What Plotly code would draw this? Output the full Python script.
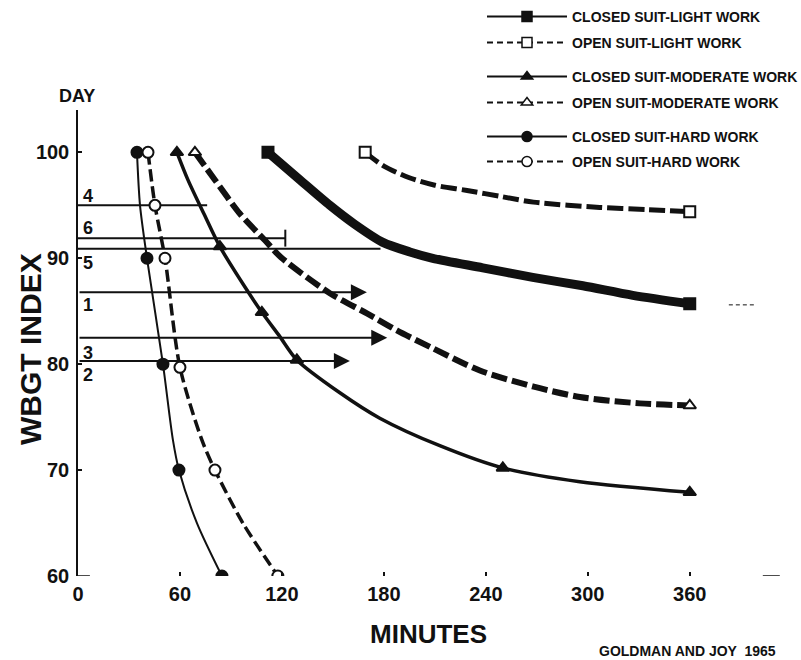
import plotly.graph_objects as go

# ---------------- data ----------------
closed_light_min = [111.8, 130.6, 148.2, 162.9, 179.4, 195.3, 208.8, 238.2, 267.6, 297.1, 326.5, 360]
closed_light_wbgt = [100, 97.4, 95.0, 93.2, 91.5, 90.6, 90.0, 89.1, 88.2, 87.4, 86.5, 85.7]
closed_light_marks = [0, 11]

open_light_min = [169, 180, 195, 210, 229, 250, 268, 307, 335, 360]
open_light_wbgt = [100, 98.7, 97.6, 96.9, 96.4, 95.8, 95.3, 94.8, 94.6, 94.4]
open_light_marks = [0, 9]

closed_mod_min = [58.2, 64.7, 74.1, 83.5, 99.4, 108.2, 118.8, 128.8, 154.1, 177.6, 212.9, 250, 295.3, 360]
closed_mod_wbgt = [100, 97.4, 94.2, 91.1, 87.0, 84.9, 82.6, 80.4, 77.3, 74.9, 72.3, 70.2, 68.9, 67.9]
closed_mod_marks = [0, 3, 5, 7, 11, 13]

open_mod_min = [68.8, 80.6, 95.3, 110, 119.4, 148.2, 170, 187.6, 208.8, 236.5, 267.6, 295.3, 330.6, 360]
open_mod_wbgt = [100, 97.4, 94.2, 91.7, 90.1, 86.7, 84.8, 83.2, 81.5, 79.4, 77.9, 76.9, 76.3, 76.1]
open_mod_marks = [0, 13]

closed_hard_min = [34.7, 36.5, 40.6, 50, 55.9, 59.4, 70, 84.7]
closed_hard_wbgt = [100, 95, 90, 80, 72.8, 70, 65, 60]
closed_hard_marks = [0, 2, 3, 5, 7]

open_hard_min = [41.2, 45.3, 51.2, 60, 73, 80.6, 97, 117.6]
open_hard_wbgt = [100, 95, 90, 79.7, 72.8, 70, 65, 60]
open_hard_marks = [0, 1, 2, 3, 5, 7]

day_labels = ["4", "6", "5", "1", "3", "2"]
day_wbgt = [95.0, 91.9, 90.9, 86.8, 82.5, 80.3]
day_end_min = [76, 122, 178, 170, 182, 160]

x_ticks = [0, 60, 120, 180, 240, 300, 360]
y_ticks = [60, 70, 80, 90, 100]

series_names = [
    "CLOSED SUIT-LIGHT WORK", "OPEN SUIT-LIGHT WORK",
    "CLOSED SUIT-MODERATE WORK", "OPEN SUIT-MODERATE WORK",
    "CLOSED SUIT-HARD WORK", "OPEN SUIT-HARD WORK",
]

# ---------------- styles ----------------
FONT = "'Liberation Sans', Arial, sans-serif"
INK = "#111111"
day_arrow = [False, False, False, True, True, True]
day_bar = [False, True, False, False, False, False]
day_label_offset = [0.9, 1.0, -1.3, -1.2, -1.4, -1.3]

series = [
    (closed_light_min, closed_light_wbgt, closed_light_marks, dict(width=9, dash="solid"), "square", True),
    (open_light_min, open_light_wbgt, open_light_marks, dict(width=5, dash="16px,5px"), "square", False),
    (closed_mod_min, closed_mod_wbgt, closed_mod_marks, dict(width=3.5, dash="solid"), "triangle-up", True),
    (open_mod_min, open_mod_wbgt, open_mod_marks, dict(width=6, dash="16px,5px"), "triangle-up", False),
    (closed_hard_min, closed_hard_wbgt, closed_hard_marks, dict(width=2, dash="solid"), "circle", True),
    (open_hard_min, open_hard_wbgt, open_hard_marks, dict(width=3.5, dash="12px,5px"), "circle", False),
]

fig = go.Figure()

# day lines
for i, lab in enumerate(day_labels):
    if day_arrow[i]:
        fig.add_annotation(x=day_end_min[i], y=day_wbgt[i], ax=0, ay=day_wbgt[i],
                           xref="x", yref="y", axref="x", ayref="y", text="",
                           showarrow=True, arrowhead=2, arrowsize=1.6, arrowwidth=2,
                           arrowcolor=INK, standoff=0)
    else:
        fig.add_trace(go.Scatter(x=[0, day_end_min[i]], y=[day_wbgt[i], day_wbgt[i]],
                                 mode="lines", line=dict(color=INK, width=2),
                                 showlegend=False, hoverinfo="skip"))
    if day_bar[i]:
        fig.add_trace(go.Scatter(x=[day_end_min[i], day_end_min[i]],
                                 y=[day_wbgt[i] - 0.8, day_wbgt[i] + 0.8],
                                 mode="lines", line=dict(color=INK, width=2),
                                 showlegend=False, hoverinfo="skip"))
    fig.add_annotation(x=6, y=day_wbgt[i] + day_label_offset[i], text=lab,
                       showarrow=False, xref="x", yref="y", xanchor="center", yanchor="middle",
                       font=dict(family=FONT, size=18, color=INK, weight="bold"))

# curves
for (xs, ys, marks, ln, sym, filled) in series:
    fig.add_trace(go.Scatter(x=xs, y=ys, mode="lines",
                             line=dict(color=INK, width=ln["width"], dash=ln["dash"],
                                       shape="spline", smoothing=0.8),
                             showlegend=False, hoverinfo="skip"))
for (xs, ys, marks, ln, sym, filled) in series:
    fig.add_trace(go.Scatter(x=[xs[k] for k in marks], y=[ys[k] for k in marks],
                             mode="markers",
                             marker=dict(symbol=sym, size=11,
                                         color=INK if filled else "white",
                                         line=dict(color=INK, width=2)),
                             showlegend=False, hoverinfo="skip"))

# legend entries (one legend per entry for exact spacing)
legend_rows_px = [17, 43, 77, 103, 137, 162]
for i, (name, (xs, ys, marks, ln, sym, filled)) in enumerate(zip(series_names, series)):
    key = "legend" if i == 0 else f"legend{i + 1}"
    fig.add_trace(go.Scatter(x=[None], y=[None], name=name, mode="lines+markers",
                             line=dict(color=INK, width=2,
                                       dash="solid" if filled else "6px,4px"),
                             marker=dict(symbol=sym, size=10,
                                         color=INK if filled else "white",
                                         line=dict(color=INK, width=1.5)),
                             legend=key))
    fig.update_layout({key: dict(
        x=(482 - 78) / 712, xanchor="left",
        y=(576 - legend_rows_px[i]) / 466, yanchor="middle",
        bgcolor="rgba(0,0,0,0)", borderwidth=0, itemwidth=80,
        font=dict(family=FONT, size=14, color=INK, weight="bold"),
        itemclick=False, itemdoubleclick=False)})

# axis texts
fig.add_annotation(x=(77 - 78) / 712, y=(576 - 96) / 466, xref="paper", yref="paper",
                   xanchor="center", yanchor="middle",
                   text="DAY", showarrow=False,
                   font=dict(family=FONT, size=18, color=INK, weight="bold"))
fig.add_annotation(x=(30 - 78) / 712, y=(576 - 349) / 466, xref="paper", yref="paper",
                   xanchor="center", yanchor="middle",
                   text="WBGT INDEX", textangle=-90, showarrow=False,
                   font=dict(family=FONT, size=30, color=INK, weight="bold"))
fig.add_annotation(x=(428 - 78) / 712, y=(576 - 634) / 466, xref="paper", yref="paper",
                   xanchor="center", yanchor="middle",
                   text="MINUTES", showarrow=False,
                   font=dict(family=FONT, size=26, color=INK, weight="bold"))
fig.add_annotation(x=(687 - 78) / 712, y=(576 - 651) / 466, xref="paper", yref="paper",
                   xanchor="center", yanchor="middle",
                   text="GOLDMAN AND JOY  1965", showarrow=False,
                   font=dict(family=FONT, size=14, color=INK, weight="bold"))

# small stray marks of the original drawing
fig.add_shape(type="line", x0=0, x1=7, y0=60, y1=60, xref="x", yref="y",
              line=dict(color=INK, width=1.5))
fig.add_shape(type="line", x0=403, x1=413, y0=60, y1=60, xref="x", yref="y",
              line=dict(color=INK, width=1.5))
fig.add_shape(type="line", x0=383, x1=399, y0=85.6, y1=85.6, xref="x", yref="y",
              line=dict(color=INK, width=1, dash="4px,3px"))

fig.update_layout(
    width=801, height=660,
    margin=dict(l=78, r=11, t=110, b=84, autoexpand=False),
    paper_bgcolor="white", plot_bgcolor="white",
    xaxis=dict(range=[0, 419], tickvals=x_ticks, showgrid=False, zeroline=False,
               showline=False, ticks="inside", ticklen=4, tickwidth=1.5, tickcolor=INK,
               ticklabelstandoff=4,
               tickfont=dict(family=FONT, size=20, color=INK, weight="bold")),
    yaxis=dict(range=[60, 104], tickvals=y_ticks, showgrid=False, zeroline=False,
               showline=True, linecolor=INK, linewidth=1.5,
               ticks="inside", ticklen=4, tickwidth=1.5, tickcolor=INK,
               ticklabelstandoff=3,
               tickfont=dict(family=FONT, size=20, color=INK, weight="bold")),
)

fig.write_html("out.html")
